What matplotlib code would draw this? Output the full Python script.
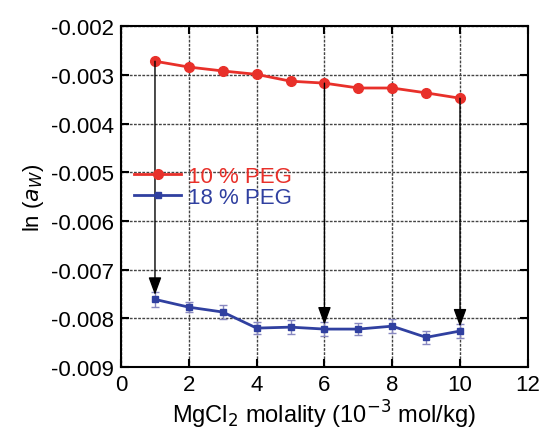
import matplotlib
matplotlib.use('Agg')
import matplotlib.pyplot as plt

plt.rcParams['font.family'] = ['Liberation Sans', 'DejaVu Sans']

molality = [1, 2, 3, 4, 5, 6, 7, 8, 9, 10]
peg10 = [-0.00272, -0.00284, -0.00292, -0.00299, -0.00313, -0.00317, -0.00327, -0.00327, -0.00337, -0.00348]
peg18 = [-0.00761, -0.00777, -0.00787, -0.00820, -0.00818, -0.00822, -0.00822, -0.00816, -0.00839, -0.00826]
peg18_err = [0.00015, 0.00010, 0.00015, 0.00012, 0.00015, 0.00015, 0.00013, 0.00015, 0.00013, 0.00015]
arrow_x = [1, 6, 10]

red = '#e8302a'
blue = '#3040a0'

fig = plt.figure(figsize=(5.43, 4.31), dpi=100)
ax = fig.add_axes([0.223, 0.146, 0.749, 0.791])

ax.plot(molality, peg10, '-o', color=red, lw=2, ms=7, label='10 % PEG')
ax.errorbar(molality, peg18, yerr=peg18_err, fmt='none',
            ecolor='#8888c0', elinewidth=1, capsize=3)
ax.plot(molality, peg18, '-s', color=blue, lw=2, ms=5, label='18 % PEG')

for xa in arrow_x:
    i = molality.index(xa)
    ax.annotate('', xy=(xa, peg18[i] + 0.00009), xytext=(xa, peg10[i]),
                arrowprops=dict(arrowstyle='-|>,head_width=0.22,head_length=0.6',
                                color='black', lw=1,
                                mutation_scale=18, shrinkA=0, shrinkB=0))

ax.set_xlim(0, 12)
ax.set_ylim(-0.009, -0.002)
ax.set_xticks(range(0, 13, 2))
ax.set_yticks([-0.009, -0.008, -0.007, -0.006, -0.005, -0.004, -0.003, -0.002])
ax.set_yticklabels(['-0.009', '-0.008', '-0.007', '-0.006', '-0.005', '-0.004', '-0.003', '-0.002'])
ax.grid(True, color='#444444', linestyle=(0, (2, 1)), lw=1)
ax.tick_params(direction='in', length=6, width=1.5, labelsize=16, top=True, right=True, pad=5)
for s in ax.spines.values():
    s.set_linewidth(1.5)

ax.set_xlabel('MgCl$_2$ molality (10$^{-3}$ mol/kg)', fontsize=17, labelpad=2)
ax.set_ylabel('ln ($a_W$)', fontsize=16, labelpad=4)

leg = ax.legend(loc='upper left', bbox_to_anchor=(0.0, 0.63), frameon=False,
                fontsize=16, handlelength=2.1, handletextpad=0.3, labelspacing=0.0,
                borderaxespad=0.2)
for t, c in zip(leg.get_texts(), [red, blue]):
    t.set_color(c)

fig.savefig('out.png', dpi=100)
